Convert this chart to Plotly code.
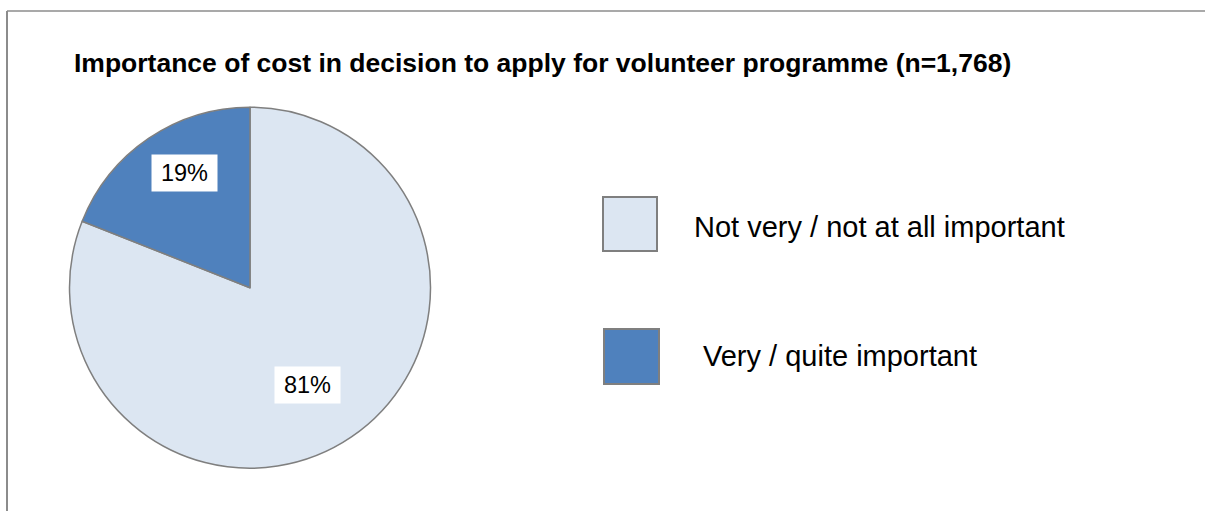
import math
import plotly.graph_objects as go

# Survey responses
categories = ["Not very / not at all important", "Very / quite important"]
shares = [81, 19]
title_text = "Importance of cost in decision to apply for volunteer programme (n=1,768)"

# Styling
slice_colors = ["#DCE6F2", "#4F81BD"]
edge_color = "#7F7F7F"
font_family = "Liberation Sans, Arial, sans-serif"
label_radius = [0.628, 0.732]   # label distance from centre, fraction of radius
label_turn = [3.75, 4.7]        # clockwise nudge of each label from slice middle, degrees

W, H = 1205, 511
cx, cy, R = 250.0, 287.7, 180.5  # pie centre / radius in pixels

def px(x):
    return x / W

def py(y):
    return 1 - y / H

fig = go.Figure()
fig.add_trace(go.Pie(
    labels=categories,
    values=shares,
    sort=False,
    direction="clockwise",
    rotation=0,
    marker=dict(colors=slice_colors, line=dict(color=edge_color, width=1.5)),
    textinfo="none",
    hoverinfo="label+percent",
    showlegend=False,
    domain=dict(x=[px(cx - R), px(cx + R)], y=[py(cy + R), py(cy - R)]),
))

# Percentage labels in white boxes, placed near the middle angle of each slice
total = sum(shares)
start = 0.0
for val, frac, turn in zip(shares, label_radius, label_turn):
    mid = start + val / total * 360 / 2 + turn
    start += val / total * 360
    ang = math.radians(mid)
    lx = cx + frac * R * math.sin(ang)
    ly = cy - frac * R * math.cos(ang)
    fig.add_annotation(
        x=px(lx), y=py(ly), xref="paper", yref="paper",
        text=f"{round(val / total * 100)}%", showarrow=False,
        font=dict(family=font_family, size=23.5, color="#000000"),
        bgcolor="#FFFFFF", width=65, height=36, borderpad=0,
        xanchor="center", yanchor="middle",
    )

# Legend drawn as large swatches with labels
legend_rows = [(603, 197, 54, 692, 227), (604, 329, 55, 701, 356)]
for (sx, sy, size, tx, ty), name, col in zip(legend_rows, categories, slice_colors):
    fig.add_shape(type="rect", xref="paper", yref="paper",
                  x0=px(sx), x1=px(sx + size), y0=py(sy + size), y1=py(sy),
                  fillcolor=col, line=dict(color=edge_color, width=2))
    fig.add_annotation(x=px(tx), y=py(ty), xref="paper", yref="paper",
                       text=name, showarrow=False, xanchor="left", yanchor="middle",
                       font=dict(family=font_family, size=29, color="#000000"))

# Title
fig.add_annotation(x=px(72), y=py(63), xref="paper", yref="paper",
                   text=f"<b>{title_text}</b>", showarrow=False,
                   xanchor="left", yanchor="middle",
                   font=dict(family=font_family, size=26.5, color="#000000"))

# Chart frame (top and left edges visible)
fig.add_shape(type="line", xref="paper", yref="paper",
              x0=px(7), x1=1.0, y0=py(11), y1=py(11),
              line=dict(color="#8C8C8C", width=1.5))
fig.add_shape(type="line", xref="paper", yref="paper",
              x0=px(7), x1=px(7), y0=py(11), y1=0.0,
              line=dict(color="#8C8C8C", width=2))

fig.update_layout(
    width=W, height=H,
    margin=dict(l=0, r=0, t=0, b=0),
    paper_bgcolor="#FFFFFF", plot_bgcolor="#FFFFFF",
)

fig.write_html("out.html")
